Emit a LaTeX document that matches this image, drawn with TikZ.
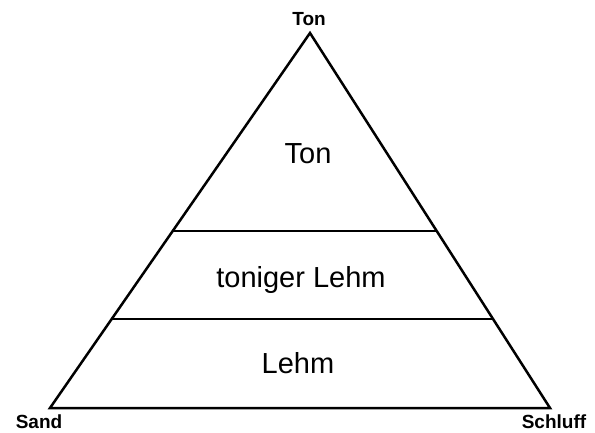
\documentclass[tikz,border=0pt]{standalone}
\usepackage{fontspec}
\setmainfont{Liberation Sans}
\usetikzlibrary{calc}
\tikzset{every picture/.append style={thick}}

\begin{document}
\begin{tikzpicture}[x=1pt, y=1pt,
    edge/.style={line width=2.5pt, line join=miter},
    corner/.style={anchor=base, inner sep=0pt, font=\bfseries\fontsize{19}{19}\selectfont},
    zone/.style={anchor=base, inner sep=0pt, font=\fontsize{29}{29}\selectfont}]
    \useasboundingbox (0,0) rectangle (595,432);
    \coordinate (top) at (310,399);
    \coordinate (sand) at (50,24);
    \coordinate (schluff) at (550,24);
    \draw[edge] (sand) -- (top) -- (schluff) -- cycle;
    % boundaries between the classes
    \coordinate (upL) at ($(top)!0.528!(sand)$);
    \coordinate (upR) at ($(top)!0.528!(schluff)$);
    \coordinate (loL) at ($(top)!0.763!(sand)$);
    \coordinate (loR) at ($(top)!0.763!(schluff)$);
    \draw[edge] (upL) -- (upR);
    \draw[edge] (loL) -- (loR);
    \node[corner] (ltop) at (309,406) {Ton};
    \node[corner] (lsand) at (39,4) {Sand};
    \node[corner] (lschluff) at (554,4) {Schluff};
    \node[zone] (zton) at (308,269) {Ton};
    \node[zone] (ztl) at (301,145) {toniger Lehm};
    \node[zone] (zlehm) at (298,59) {Lehm};
\end{tikzpicture}
\end{document}
